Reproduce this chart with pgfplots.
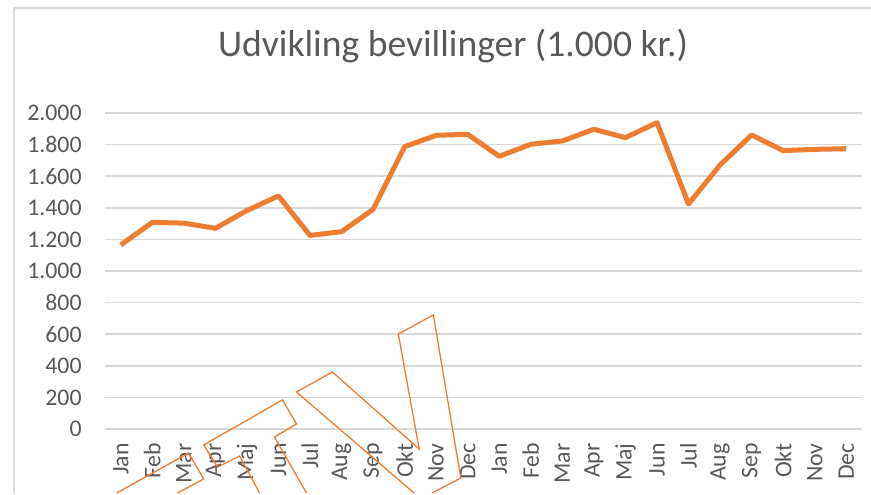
\documentclass[border=0pt]{standalone}
\usepackage{pgfplots}
\pgfplotsset{compat=1.18}
\usepackage{fontspec}
\setmainfont{Carlito}
\definecolor{xlorange}{HTML}{ED7D31}
\definecolor{xlgrid}{HTML}{D9D9D9}
\definecolor{xltext}{HTML}{595959}

\begin{document}
\begin{tikzpicture}
\useasboundingbox (0,0) rectangle (435.5pt,247pt);
% chart frame (cut off at right and bottom)
\draw[xlgrid, line width=0.75pt] (7pt,0) -- (7pt,243pt) -- (440pt,243pt);
\node[text=xltext, font=\fontsize{18.8}{22}\selectfont] at (226.5pt,224pt) {Udvikling bevillinger (1.000 kr.)};
\begin{axis}[
  at={(52.5pt,32.5pt)}, anchor=south west,
  scale only axis, width=378.5pt, height=158pt,
  xmin=-0.5, xmax=23.5, ymin=0, ymax=2000,
  ytick distance=200,
  xtick={0,...,23},
  xticklabels={Jan,Feb,Mar,Apr,Maj,Jun,Jul,Aug,Sep,Okt,Nov,Dec,Jan,Feb,Mar,Apr,Maj,Jun,Jul,Aug,Sep,Okt,Nov,Dec},
  ymajorgrids, major grid style={xlgrid, line width=0.75pt},
  axis line style={draw=none}, tick style={draw=none},
  /pgf/number format/.cd, 1000 sep={.}, assume math mode=true,
  /pgfplots/.cd,
  ticklabel style={text=xltext, font=\fontsize{11.9}{14}\selectfont},
  yticklabel style={inner xsep=0pt, xshift=-11.5pt},
  xticklabel style={rotate=90, anchor=east, inner xsep=0pt, xshift=-7pt},
  clip=false,
]
\addplot[xlorange, line width=2.5pt, line join=round] coordinates {
  (0,1165) (1,1308) (2,1303) (3,1270) (4,1383) (5,1475)
  (6,1225) (7,1249) (8,1390) (9,1787) (10,1859) (11,1865)
  (12,1726) (13,1802) (14,1823) (15,1897) (16,1844) (17,1939)
  (18,1424) (19,1671) (20,1861) (21,1762) (22,1770) (23,1774)
};
% stray outline shape
\addplot[xlorange, line width=0.65pt] coordinates {
  (-0.13,-405) (2.15,-152) (2.63,-316) (1.80,-405)
};
\addplot[xlorange, line width=0.65pt] coordinates {
  (4.40,-405) (3.77,-171) (3.07,-241) (2.63,-101) (5.13,184) (5.57,32) (4.87,-51) (5.89,-405)
};
\addplot[xlorange, line width=0.65pt] coordinates {
  (9.30,-405) (5.57,234) (6.71,361) (9.46,-127) (8.80,601) (9.91,722) (10.78,-310) (9.87,-405)
};
\end{axis}
\end{tikzpicture}
\end{document}
